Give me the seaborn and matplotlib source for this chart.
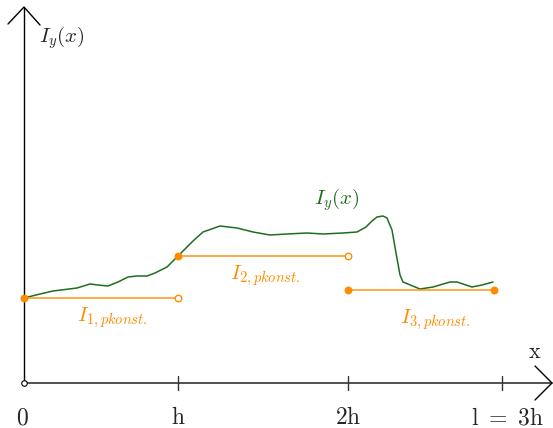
import matplotlib
matplotlib.use("Agg")
import matplotlib.pyplot as plt
import seaborn as sns
import pandas as pd

curve_x = [0, 16, 29, 53, 66, 74, 84, 94, 104, 113, 123, 131, 143, 154, 163, 169,
           179, 196, 213, 229, 246, 263, 283, 299, 319, 333, 342, 348, 353, 359, 363,
           368, 372, 376, 379, 396, 409, 426, 433, 439, 448, 458, 469]
curve_y = [85, 89, 92, 95, 99, 98, 97, 101, 106, 107, 107, 110, 116, 127, 136, 142,
           151, 157, 155, 151, 148, 149, 150, 149, 150, 151, 156, 162, 166, 167, 165,
           153, 130, 108, 101, 94, 96, 101, 101, 99, 96, 98, 101]

# piecewise constant approximation
seg_start = [0, 154, 324]
seg_end = [154, 324, 470]
seg_val = [85, 127, 93]
seg_labels = [r"$I_{1,pkonst.}$", r"$I_{2,pkonst.}$", r"$I_{3,pkonst.}$"]

tick_pos = [154, 324, 478]
tick_labels = [r"$\mathrm{h}$", r"$\mathrm{2h}$", r"$\mathrm{l}\ =\ \mathrm{3h}$"]

sns.set_style("white")
plt.rcParams["mathtext.fontset"] = "cm"
plt.rcParams["font.family"] = ["DejaVu Serif"]

green = "#1e6e1e"
orange = "#ff8c00"

fig = plt.figure(figsize=(5.53, 4.28), dpi=100)
ax = fig.add_axes([0, 0, 1, 1])
ax.set_xlim(-24, 529)
ax.set_ylim(-45, 383)
ax.axis("off")

# axes with open arrow heads
ax.plot([0, 0], [0, 375], color="black", lw=1)
ax.plot([-16, 0, 16], [359, 376, 358], color="black", lw=1)
ax.plot([0, 528], [0, 0], color="#333333", lw=1.2)
ax.plot([511, 528, 511], [17, 0, -17], color="black", lw=1)
for t in tick_pos:
    ax.plot([t, t], [-7, 7], color="#333333", lw=1)
ax.scatter([0], [0], s=16, facecolor="white", edgecolor="black", lw=0.8, zorder=5)

curve = pd.DataFrame({"x": curve_x, "y": curve_y})
sns.lineplot(data=curve, x="x", y="y", ax=ax, color=green, lw=1.1, sort=False)

label_xy = [(88, 65), (241, 107), (411, 63)]
for i, (a, b, v) in enumerate(zip(seg_start, seg_end, seg_val)):
    seg = pd.DataFrame({"x": [a, b], "y": [v, v]})
    sns.lineplot(data=seg, x="x", y="y", ax=ax, color=orange, lw=1.2, alpha=0.85)
    ax.scatter([a], [v], s=22, color=orange, zorder=6)
    if i < 2:
        ax.scatter([b], [v], s=22, facecolor="white", edgecolor=orange, lw=1, zorder=6)
    else:
        ax.scatter([b], [v], s=22, color=orange, zorder=6)
    ax.text(*label_xy[i], seg_labels[i], color=orange, fontsize=15, ha="center", va="center")

ax.set_xlabel("")
ax.set_ylabel("")

ax.text(15, 345, r"$I_y(x)$", fontsize=15, ha="left", va="center")
ax.text(313, 183, r"$I_y(x)$", color=green, fontsize=15, ha="center", va="center")
ax.text(511, 31, r"$\mathrm{x}$", fontsize=16, ha="center", va="center")

ax.text(-2, -35, r"$0$", fontsize=17, ha="center", va="center")
for t, lab in zip(tick_pos, tick_labels):
    ax.text(t + (6 if lab.startswith(r"$\mathrm{l}") else 0), -35, lab,
            fontsize=17, ha="center", va="center")

fig.savefig("out.png", dpi=100)
